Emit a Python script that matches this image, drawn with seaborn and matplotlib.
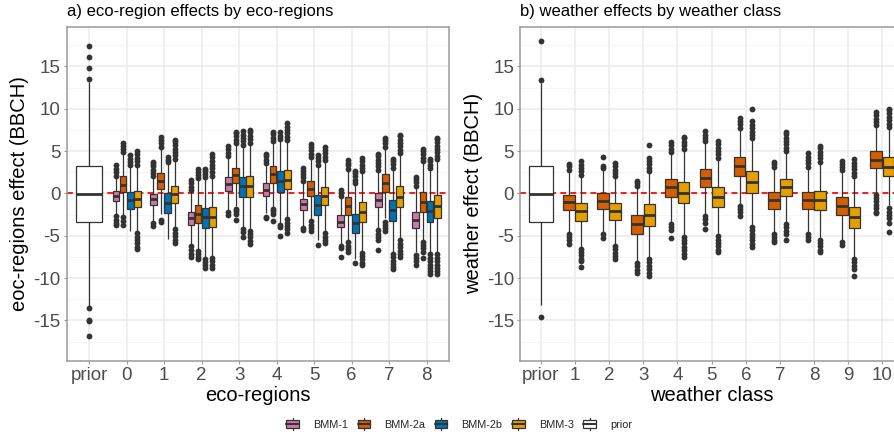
import numpy as np
import pandas as pd
import matplotlib
matplotlib.use("Agg")
import matplotlib.pyplot as plt
import seaborn as sns
from matplotlib.legend_handler import HandlerBase
from matplotlib.patches import Rectangle, Patch
from matplotlib.lines import Line2D

# ---------------- data ----------------
ECO_CATS = ["prior", "0", "1", "2", "3", "4", "5", "6", "7", "8"]
WEA_CATS = ["prior", "1", "2", "3", "4", "5", "6", "7", "8", "9", "10"]
ECO_MODELS = ["BMM-1", "BMM-2a", "BMM-2b", "BMM-3"]
WEA_MODELS = ["BMM-2a", "BMM-3"]
LEGEND_LABELS = ["BMM-1", "BMM-2a", "BMM-2b", "BMM-3", "prior"]
COLORS = {"BMM-1": "#CC79A7", "BMM-2a": "#D55E00", "BMM-2b": "#0072B2",
          "BMM-3": "#E69F00", "prior": "#FFFFFF"}

# prior boxes: q1, median, q3, lower whisker, upper whisker
PRIOR_ECO_STATS = [-3.4, -0.05, 3.27, -13.3, 13.2]
PRIOR_ECO_OUT = [-16.9, -15.1, -14.9, -13.5, 13.55, 14.8, 16.1, 17.4]
PRIOR_WEA_STATS = [-3.35, -0.05, 3.27, -13.15, 13.1]
PRIOR_WEA_OUT = [-14.65, 13.45, 17.95]

# eco-region effects (categories 0..8)
ECO_Q1 = {
    "BMM-1": [-0.88, -1.42, -3.75, 0.3, -0.35, -2.0, -4.0, -1.65, -4.1],
    "BMM-2a": [0.15, 0.47, -3.5, 1.2, 1.25, -0.35, -2.5, 0.2, -2.15],
    "BMM-2b": [-1.9, -2.26, -4.05, -0.47, 0.12, -2.5, -4.7, -3.3, -3.35],
    "BMM-3": [-1.65, -1.15, -3.95, -0.45, 0.47, -1.42, -3.4, -1.65, -2.95],
}
ECO_MED = {
    "BMM-1": [-0.35, -0.7, -2.9, 1.1, 0.45, -1.3, -3.35, -0.75, -3.15],
    "BMM-2a": [1.0, 1.45, -2.4, 2.15, 2.25, 0.55, -1.45, 1.2, -1.0],
    "BMM-2b": [-0.8, -1.1, -2.75, 0.85, 1.45, -1.4, -3.55, -2.0, -2.1],
    "BMM-3": [-0.7, -0.1, -2.75, 0.85, 1.57, -0.28, -2.2, -0.4, -1.5],
}
ECO_Q3 = {
    "BMM-1": [0.28, -0.1, -2.15, 1.9, 1.2, -0.65, -2.55, 0.08, -2.15],
    "BMM-2a": [2.0, 2.44, -1.4, 3.05, 3.2, 1.45, -0.4, 2.28, 0.2],
    "BMM-2b": [0.15, 0.08, -1.7, 1.97, 2.6, -0.2, -2.4, -0.8, -0.85],
    "BMM-3": [0.28, 0.85, -1.6, 2.1, 2.75, 0.7, -1.05, 0.87, -0.2],
}
ECO_WLO = {
    "BMM-1": [-2.55, -3.3, -6.05, -2.05, -2.3, -3.95, -6.1, -4.2, -6.95],
    "BMM-2a": [-2.55, -2.4, -6.6, -1.5, -1.6, -3.0, -5.6, -2.85, -5.6],
    "BMM-2b": [-4.4, -5.4, -7.5, -4.05, -3.5, -5.5, -7.8, -7.0, -7.0],
    "BMM-3": [-4.5, -4.1, -7.4, -4.2, -2.9, -4.5, -6.85, -5.4, -7.0],
}
ECO_WHI = {
    "BMM-1": [1.95, 1.8, 0.2, 4.2, 3.45, 1.3, -0.45, 2.6, 0.7],
    "BMM-2a": [4.7, 5.35, 1.7, 5.75, 6.05, 4.1, 2.7, 5.3, 3.65],
    "BMM-2b": [3.2, 3.5, 1.8, 5.55, 6.25, 3.2, 1.0, 2.9, 2.85],
    "BMM-3": [3.1, 3.8, 1.9, 5.85, 6.1, 3.8, 2.4, 4.55, 3.9],
}
ECO_OUT_LO = {
    "BMM-1": [[-3.75, -3.5, -3.1, -2.7], [-3.9, -3.5], [-7.5, -7.1, -6.7, -6.25], [-2.55, -2.2],
              [-2.9, -2.75], [-4.3, -4.1], [-7.55, -6.4, -6.25], [-6.7, -5.55, -5.15, -4.75, -4.35],
              [-8.4, -8.0, -7.6, -7.3]],
    "BMM-2a": [[-3.7, -3.3, -2.8], [-3.35, -3.15], [-7.8, -7.5, -7.2, -6.8], [-3.2, -2.4, -2.1, -1.8],
               [-3.3, -2.4, -2.1, -1.8], [-4.4, -4.1, -3.7, -3.3], [-6.9, -6.6, -6.2, -5.8],
               [-4.5, -4.1, -3.7, -3.35], [-7.6, -6.9, -6.5, -6.1, -5.75]],
    "BMM-2b": [[], [], [-8.8, -8.5, -8.1, -7.7], [-5.15, -4.6, -4.25], [-5.05, -3.95, -3.75], [-6.05],
               [-8.25], [-8.95, -8.75, -8.35, -7.95, -7.55, -7.15],
               [-9.55, -9.2, -8.8, -8.4, -8.0, -7.6, -7.2]],
    "BMM-3": [[-6.6, -6.3, -5.9, -5.5, -5.1, -4.65], [-5.85, -5.45, -5.05, -4.65, -4.25],
              [-8.8, -8.4, -8.0, -7.6], [-6.0, -5.6, -5.2, -4.8, -4.4], [-4.65, -4.25, -3.85, -3.45, -3.05],
              [-5.9, -5.5, -5.1, -4.7], [-8.5, -8.2, -7.8, -7.4, -7.0],
              [-7.5, -7.15, -6.75, -6.35, -5.95, -5.55], [-9.55, -9.2, -8.8, -8.4, -8.0, -7.6, -7.2]],
}
ECO_OUT_HI = {
    "BMM-1": [[2.1, 2.5, 2.9, 3.35], [2.0, 2.4, 2.8, 3.2, 3.5, 3.75], [0.45, 0.8, 1.2, 1.55],
              [4.4, 4.8, 5.2, 5.6], [3.6, 4.0, 4.4, 4.7], [1.5, 1.9, 2.3, 2.7, 2.95], [-0.3, 0.05, 0.4],
              [2.8, 3.2, 3.6, 4.0, 4.4, 4.6], [0.9, 1.3, 1.7, 1.95]],
    "BMM-2a": [[4.9, 5.3, 5.6, 5.95], [5.5, 5.9, 6.3, 6.7], [1.85, 2.2, 2.55, 2.85],
               [5.95, 6.35, 6.75, 7.1, 7.3], [6.2, 6.6, 7.0, 7.3], [4.3, 4.7, 5.1, 5.5, 5.85],
               [2.9, 3.3, 3.6, 3.9], [5.5, 5.9, 6.3, 6.6], [3.8, 4.2, 4.6, 5.0, 5.3]],
    "BMM-2b": [[3.4, 3.7, 4.1, 4.5], [3.7, 4.0, 4.3], [1.95, 2.3, 2.6, 2.9], [5.75, 6.15, 6.55, 6.95, 7.35],
               [6.4, 6.8, 7.2], [3.4, 3.8, 4.2, 4.5], [1.2, 1.6, 2.0, 2.4, 2.7], [3.05, 3.45, 3.85, 4.1],
               [3.0, 3.4, 3.8, 4.1]],
    "BMM-3": [[3.35, 3.8, 4.2, 4.6, 5.0], [4.1, 4.5, 4.9, 5.3, 5.7, 6.1, 6.3],
              [2.05, 2.5, 2.95, 3.4, 3.85, 4.3, 4.6], [6.0, 6.4, 6.8, 7.2, 7.45],
              [6.3, 6.7, 7.1, 7.5, 7.9, 8.3], [3.95, 4.35, 4.75, 5.15, 5.5], [2.6, 3.0, 3.4, 3.8, 4.2],
              [4.75, 5.15, 5.55, 5.95, 6.35, 6.75, 6.95], [4.05, 4.45, 4.85, 5.25, 5.65, 6.05, 6.45, 6.6]],
}

# weather effects (classes 1..10)
WEA_Q1 = {
    "BMM-2a": [-1.95, -1.9, -4.8, -0.4, 0.7, 2.05, -1.8, -1.8, -2.55, 3.0],
    "BMM-3": [-3.25, -3.1, -3.85, -1.18, -1.57, 0.05, -0.35, -1.95, -4.05, 2.0],
}
WEA_MED = {
    "BMM-2a": [-1.0, -0.9, -3.6, 0.75, 1.8, 3.2, -0.75, -0.8, -1.45, 4.0],
    "BMM-3": [-2.1, -2.05, -2.55, 0.08, -0.47, 1.3, 0.8, -0.8, -2.75, 3.1],
}
WEA_Q3 = {
    "BMM-2a": [-0.15, 0.0, -2.55, 1.7, 2.85, 4.3, 0.15, 0.15, -0.47, 5.0],
    "BMM-3": [-1.1, -1.1, -1.3, 1.38, 0.7, 2.6, 1.75, 0.3, -1.65, 4.3],
}
WEA_WLO = {
    "BMM-2a": [-4.6, -4.7, -8.1, -3.5, -2.45, -1.3, -4.7, -4.65, -5.5, 0.05],
    "BMM-3": [-6.4, -6.0, -7.6, -4.95, -4.9, -3.75, -3.45, -5.25, -7.55, -1.4],
}
WEA_WHI = {
    "BMM-2a": [2.5, 2.8, 0.75, 4.75, 6.0, 7.6, 3.0, 3.0, 2.55, 7.9],
    "BMM-3": [2.05, 1.85, 2.45, 5.15, 4.05, 6.35, 4.85, 3.6, 1.9, 7.7],
}
WEA_OUT_LO = {
    "BMM-2a": [[-5.95, -5.55, -5.15, -4.75], [-5.25, -4.85], [-9.4, -9.0, -8.6, -8.25],
               [-5.3, -4.3, -4.0, -3.65], [-4.15, -3.45, -3.05, -2.65], [-2.65, -2.25, -1.85, -1.45],
               [-5.8, -5.55, -5.2, -4.85], [-5.45, -5.2, -4.85], [-6.15, -5.75],
               [-2.35, -2.15, -1.75, -1.35, -0.95, -0.55, -0.15]],
    "BMM-3": [[-8.75, -8.0, -7.7, -7.3, -6.9, -6.55], [-7.7, -7.4, -7.0, -6.6, -6.2],
              [-9.75, -9.35, -8.95, -8.55, -8.15, -7.75], [-7.5, -7.1, -6.7, -6.3, -5.9, -5.5, -5.1],
              [-6.9, -6.65, -6.25, -5.85, -5.45, -5.05], [-6.35, -5.95, -5.55, -5.15, -4.75, -4.35, -3.95],
              [-5.45, -4.8, -4.4, -4.0, -3.6], [-6.95, -6.65, -6.25, -5.85, -5.45],
              [-9.8, -8.95, -8.55, -8.15, -7.75], [-4.6, -3.5, -2.95, -2.55, -2.15, -1.75]],
}
WEA_OUT_HI = {
    "BMM-2a": [[2.8, 3.2, 3.5], [2.95, 3.25, 4.3], [0.9, 1.2, 1.5], [4.9, 5.3, 5.7, 6.05],
               [6.15, 6.55, 6.95, 7.35], [7.75, 8.15, 8.55, 8.95], [3.15, 3.45, 3.75],
               [3.15, 3.55, 3.95, 4.35, 4.75], [2.75, 3.1, 3.45, 3.8], [8.05, 8.45, 8.85, 9.25, 9.6]],
    "BMM-3": [[2.2, 2.6, 3.0, 3.4, 3.8], [2.0, 2.4, 2.8, 3.2, 3.55], [2.65, 3.05, 3.45, 3.85, 4.2, 5.7],
              [5.3, 5.7, 6.1, 6.5, 6.7], [4.2, 4.6, 5.0, 5.4, 5.8, 6.2], [6.5, 6.9, 7.3, 7.7, 8.1, 8.5, 10.0],
              [5.0, 5.4, 5.8, 6.2, 6.6, 7.0, 7.25], [3.75, 4.15, 4.55, 4.95, 5.35, 5.65],
              [2.05, 2.45, 2.85, 3.25, 3.65, 4.05], [7.85, 8.25, 8.65, 9.05, 9.45, 9.85, 10.0]],
}

# ------------- build samples whose box statistics equal the values above -------------
N_CORE = 60


def box_sample(q1, med, q3, wlo, whi, outliers):
    return list(outliers) + [wlo] + [q1] * N_CORE + [med] * N_CORE + [q3] * N_CORE + [whi]


def model_frame(cats, models, q1, med, q3, wlo, whi, olo, ohi):
    rows = []
    for m in models:
        for i, c in enumerate(cats[1:]):
            vals = box_sample(q1[m][i], med[m][i], q3[m][i], wlo[m][i], whi[m][i],
                              olo[m][i] + ohi[m][i])
            rows += [(c, m, v) for v in vals]
    return pd.DataFrame(rows, columns=["cat", "model", "value"])


def prior_frame(stats, outs):
    vals = box_sample(stats[0], stats[1], stats[2], stats[3], stats[4], outs)
    return pd.DataFrame({"cat": "prior", "value": vals})


eco_df = model_frame(ECO_CATS, ECO_MODELS, ECO_Q1, ECO_MED, ECO_Q3, ECO_WLO, ECO_WHI,
                     ECO_OUT_LO, ECO_OUT_HI)
wea_df = model_frame(WEA_CATS, WEA_MODELS, WEA_Q1, WEA_MED, WEA_Q3, WEA_WLO, WEA_WHI,
                     WEA_OUT_LO, WEA_OUT_HI)
eco_prior = prior_frame(PRIOR_ECO_STATS, PRIOR_ECO_OUT)
wea_prior = prior_frame(PRIOR_WEA_STATS, PRIOR_WEA_OUT)

# ---------------- styling ----------------
sns.set_theme(style="white")
plt.rcParams["font.family"] = ["Liberation Sans", "DejaVu Sans"]
plt.rcParams["axes.unicode_minus"] = False

EDGE = "#333333"
GRID = "#EBEBEB"
BORDER = "#9A9A9A"

common = dict(
    saturation=1, linewidth=0.9, linecolor=EDGE, fliersize=4.2,
    flierprops=dict(marker="o", markerfacecolor=EDGE, markeredgecolor=EDGE,
                    markeredgewidth=0, markersize=4.2),
    medianprops=dict(color=EDGE, linewidth=2.0),
    capprops=dict(visible=False),
)

fig = plt.figure(figsize=(8.95, 4.46), dpi=100)
axA = fig.add_axes([0.0745, 0.1906, 0.4272, 0.7496])
axB = fig.add_axes([0.5814, 0.1906, 0.4274, 0.7496])


def draw_panel(ax, cats, models, df, pdf, mwidth, pwidth, title, xlabel, ylabel):
    sns.boxplot(data=pdf, x="cat", y="value", order=cats, color="white",
                width=pwidth, ax=ax, **common)
    sns.boxplot(data=df, x="cat", y="value", hue="model", hue_order=models, order=cats,
                palette=COLORS, width=mwidth, gap=0.05, dodge=True, legend=False,
                ax=ax, **common)
    ax.axhline(0, color="#FF0000", lw=1.25, ls=(0, (3.4, 2.4)), zorder=1.5)
    ax.set_xlim(-0.6, len(cats) - 0.4)
    ax.set_ylim(-19.8, 19.7)
    ax.set_yticks([-15, -10, -5, 0, 5, 10, 15])
    ax.set_yticks([-17.5, -12.5, -7.5, -2.5, 2.5, 7.5, 12.5, 17.5], minor=True)
    ax.set_xticks(range(len(cats)))
    ax.set_xticklabels(cats)
    ax.set_axisbelow(True)
    ax.grid(True, which="major", color=GRID, lw=1.1, zorder=0)
    ax.grid(True, which="minor", axis="y", color="#F4F4F4", lw=0.6, zorder=0)
    for s in ax.spines.values():
        s.set_color(BORDER)
        s.set_linewidth(1.1)
        s.set_visible(True)
    ax.tick_params(which="major", length=2.5, width=0.8, color=BORDER,
                   labelsize=13.5, labelcolor="#4D4D4D", pad=2, bottom=True, left=True)
    ax.tick_params(which="minor", length=0)
    ax.set_xlabel(xlabel, fontsize=14.5, color="black", labelpad=1)
    ax.set_ylabel(ylabel, fontsize=14.5, color="black", labelpad=3)
    ax.set_title(title, loc="left", fontsize=12, pad=8, color="black")


draw_panel(axA, ECO_CATS, ECO_MODELS, eco_df, eco_prior, 0.76, 0.68,
           "a) eco-region effects by eco-regions", "eco-regions", "eoc-regions effect (BBCH)")
draw_panel(axB, WEA_CATS, WEA_MODELS, wea_df, wea_prior, 0.72, 0.69,
           "b) weather effects by weather class", "weather class", "weather effect (BBCH)")


class BoxKey(HandlerBase):
    def create_artists(self, legend, orig, xdescent, ydescent, width, height, fontsize, trans):
        x0, y0 = -xdescent, -ydescent
        cx = x0 + width / 2
        fc = orig.get_facecolor()
        box = Rectangle((x0, y0 + 0.18 * height), width, 0.64 * height, facecolor=fc,
                        edgecolor=EDGE, lw=0.9, transform=trans)
        w1 = Line2D([cx, cx], [y0, y0 + 0.18 * height], color=EDGE, lw=0.9, transform=trans)
        w2 = Line2D([cx, cx], [y0 + 0.82 * height, y0 + height], color=EDGE, lw=0.9, transform=trans)
        med = Line2D([x0, x0 + width], [y0 + 0.5 * height] * 2, color=EDGE, lw=1.5, transform=trans)
        return [box, w1, w2, med]


handles = [Patch(facecolor=COLORS[k]) for k in LEGEND_LABELS]
fig.legend(handles, LEGEND_LABELS, loc="center", bbox_to_anchor=(0.513, 0.049), ncol=5,
           frameon=False, handler_map={Patch: BoxKey()}, fontsize=7.8,
           handlelength=1.15, handleheight=1.35, handletextpad=1.3, columnspacing=0.9)

fig.savefig("out.png", dpi=100)
